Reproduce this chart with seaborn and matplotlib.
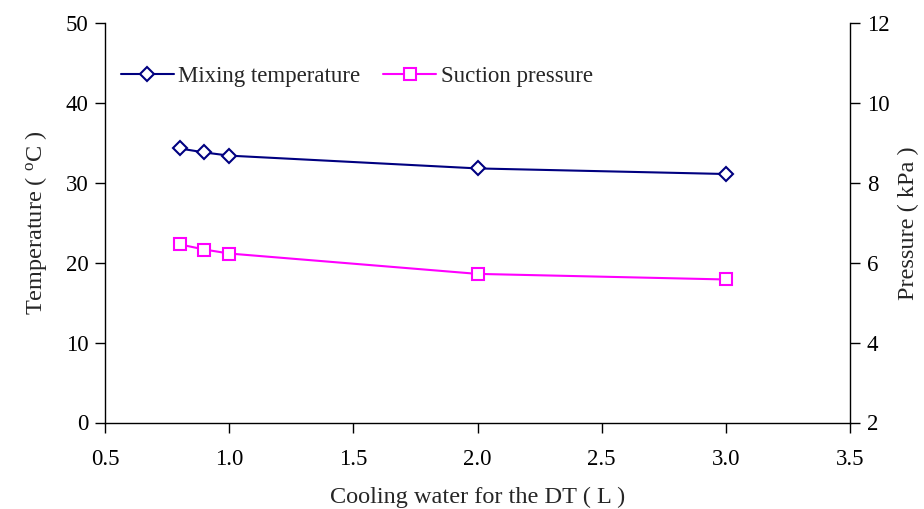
import matplotlib
matplotlib.use("Agg")
import matplotlib.pyplot as plt
import seaborn as sns
import pandas as pd
from matplotlib.lines import Line2D

water = [0.8, 0.9, 1.0, 2.0, 3.0]
mixing_temp = [34.3, 33.8, 33.4, 31.8, 31.1]
suction_pressure = [6.46, 6.33, 6.23, 5.72, 5.58]

x_ticks = [0.5, 1.0, 1.5, 2.0, 2.5, 3.0, 3.5]
left_ticks = [0, 10, 20, 30, 40, 50]
right_ticks = [2, 4, 6, 8, 10, 12]

sns.set_style("ticks")
plt.rcParams['font.family'] = ['Liberation Serif', 'DejaVu Serif']
plt.rcParams['mathtext.fontset'] = 'custom'
plt.rcParams['mathtext.rm'] = 'Liberation Serif'
plt.rcParams['mathtext.it'] = 'Liberation Serif:italic'

navy = '#000080'
magenta = '#FF00FF'

df_t = pd.DataFrame({'water': water, 'temp': mixing_temp})
df_p = pd.DataFrame({'water': water, 'pres': suction_pressure})

fig = plt.figure(figsize=(9.24, 5.09), dpi=100)
ax = fig.add_axes([105/924, 1 - 422.5/509, 745/924, 399.5/509])
ax2 = ax.twinx()

sns.lineplot(data=df_t, x='water', y='temp', ax=ax, color=navy, lw=1.5,
             marker='D', markersize=7.5, markerfacecolor='white',
             markeredgecolor=navy, markeredgewidth=1.5)
sns.lineplot(data=df_p, x='water', y='pres', ax=ax2, color=magenta, lw=1.5,
             marker='s', markersize=9, markerfacecolor='white',
             markeredgecolor=magenta, markeredgewidth=1.5)

ax.set_xlim(0.5, 3.5)
ax.set_ylim(0, 50)
ax2.set_ylim(2, 12)
ax.set_xticks(x_ticks)
ax.set_xticklabels([f"{v:.1f}" for v in x_ticks])
ax.set_yticks(left_ticks)
ax2.set_yticks(right_ticks)

for a in (ax, ax2):
    a.spines['top'].set_visible(False)
    for s in a.spines.values():
        s.set_linewidth(1.0)
        s.set_color('black')
    a.tick_params(direction='out', length=7, width=1.0, labelsize=16.5, colors='black')
ax.spines['right'].set_visible(False)
ax2.spines['left'].set_visible(False)
ax2.spines['bottom'].set_visible(False)
ax.tick_params(axis='x', pad=12)
ax.tick_params(axis='y', pad=5)
ax2.tick_params(axis='y', pad=5)

ax.set_xlabel('Cooling water for the DT ( L )', fontsize=17.5, labelpad=12)
ax.set_ylabel(r'Temperature ( $^{\mathrm{o}}$C )', fontsize=17.5, labelpad=12)
ax2.set_ylabel('Pressure ( kPa )', fontsize=17.5, labelpad=6)

handles = [
    Line2D([], [], color=navy, lw=1.5, marker='D', markersize=7.5,
           markerfacecolor='white', markeredgecolor=navy, markeredgewidth=1.5),
    Line2D([], [], color=magenta, lw=1.5, marker='s', markersize=9,
           markerfacecolor='white', markeredgecolor=magenta, markeredgewidth=1.5),
]
ax.legend(handles, ['Mixing temperature', 'Suction pressure'], ncol=2,
          loc='upper left', bbox_to_anchor=(0.003, 0.928), frameon=False,
          fontsize=16.5, handlelength=2.3, handletextpad=0.2, columnspacing=1.0,
          borderaxespad=0.2)

fig.savefig('out.png', dpi=100)
